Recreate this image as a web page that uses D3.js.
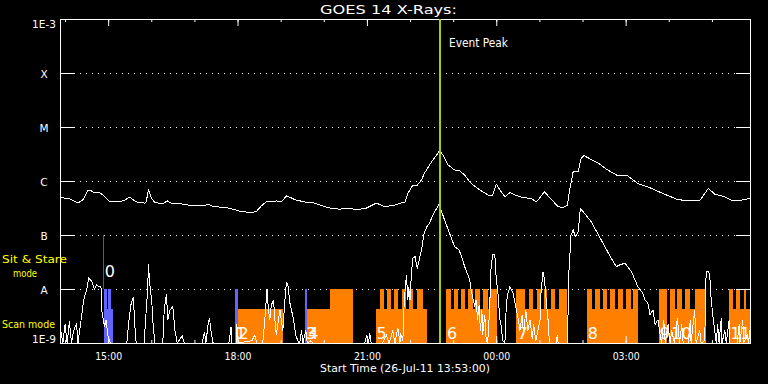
<!DOCTYPE html>
<html>
<head>
<meta charset="utf-8">
<script src="https://cdn.jsdelivr.net/npm/d3@7"></script>
<style>
  html, body { margin: 0; padding: 0; background: #000; }
  svg { display: block; }
  text { font-family: "DejaVu Sans", sans-serif; fill: #fff; }
</style>
</head>
<body>
<svg id="chart" width="768" height="384"></svg>
<script>
// GOES 14 X-ray flux, 16 h window. Times are minutes after the start time.
const startTime = new Date(2011, 6, 26, 13, 53, 0);
const spanMinutes = 960;

const levelValues = [1e-9, 1e-8, 1e-7, 1e-6, 1e-5, 1e-4, 1e-3];
const levelLabels = ['1E-9', 'A', 'B', 'C', 'M', 'X', '1E-3'];

// 1-8 A channel (W/m^2)
const longChannel = [
  [0, 5.0e-7], [15, 4.6e-7], [25, 3.9e-7], [32, 4.5e-7], [39, 6.8e-7], [43, 6.6e-7], [48, 6.1e-7],
  [55, 6.1e-7], [60, 5.5e-7], [69, 4.1e-7], [78, 4.1e-7], [88, 4.3e-7], [97, 5.0e-7], [106, 4.1e-7],
  [118, 3.9e-7], [120, 4.1e-7], [123, 7.0e-7], [127, 4.8e-7], [132, 4.0e-7], [143, 3.75e-7], [149, 4.3e-7],
  [155, 3.9e-7], [164, 3.9e-7], [176, 3.6e-7], [187, 3.55e-7], [201, 3.45e-7], [206, 3.75e-7], [213, 3.35e-7],
  [229, 3.25e-7], [241, 3.0e-7], [248, 2.8e-7], [264, 2.6e-7], [273, 2.7e-7], [280, 3.45e-7], [287, 4.1e-7],
  [296, 4.1e-7], [301, 4.3e-7], [308, 4.1e-7], [315, 5.3e-7], [320, 5.0e-7], [327, 4.5e-7], [340, 4.1e-7],
  [354, 3.9e-7], [373, 3.2e-7], [389, 3.0e-7], [401, 3.15e-7], [410, 3.0e-7], [424, 3.05e-7], [440, 3.9e-7],
  [452, 3.35e-7], [466, 3.6e-7], [480, 4.1e-7], [484, 5.9e-7], [491, 8.4e-7], [496, 8.1e-7], [503, 1.04e-6],
  [507, 1.39e-6], [517, 2.27e-6], [524, 3.0e-6], [528, 3.64e-6], [533, 3.0e-6], [540, 1.98e-6], [549, 1.6e-6],
  [556, 1.55e-6], [563, 1.29e-6], [572, 9.0e-7], [584, 6.8e-7], [598, 5.3e-7], [602, 5.5e-7], [607, 8.7e-7],
  [614, 6.3e-7], [619, 5.1e-7], [626, 6.1e-7], [633, 5.5e-7], [640, 5.1e-7], [656, 4.7e-7], [663, 4.1e-7],
  [674, 6.3e-7], [684, 4.5e-7], [693, 3.35e-7], [700, 3.2e-7], [706, 3.6e-7], [709, 6.8e-7], [714, 1.49e-6],
  [721, 1.49e-6], [725, 2.63e-6], [729, 2.95e-6], [749, 2.13e-6], [762, 1.6e-6], [776, 1.25e-6], [790, 1.24e-6],
  [804, 9.0e-7], [823, 7.3e-7], [841, 5.7e-7], [860, 4.5e-7], [878, 4.3e-7], [890, 4.3e-7], [902, 7.3e-7],
  [911, 5.7e-7], [925, 5.1e-7], [936, 4.3e-7], [953, 4.5e-7], [960, 4.8e-7]
];

// 0.5-4 A channel (W/m^2)
const shortChannel = [
  [1, 1.7e-9], [4, 1e-9], [7, 2.2e-9], [10, 1e-9], [13, 2.5e-9], [16, 1e-9], [19, 1.7e-9], [23, 2.3e-9],
  [25, 1e-9], [30, 3.1e-9], [33, 6.3e-9], [37, 9.6e-9], [40, 1.6e-8], [44, 1.4e-8], [48, 1.0e-8], [51, 1.2e-8],
  [54, 1.1e-8], [57, 1.1e-8], [58, 4.1e-9], [62, 2.0e-9], [64, 2.7e-9], [67, 1.3e-9], [70, 1e-9],
  [93, 1e-9], [96, 2.7e-9], [99, 5.4e-9], [102, 7.2e-9], [104, 2.2e-9], [106, 1e-9],
  [117, 1e-9], [120, 4.1e-9], [122, 9.6e-9], [123, 2.9e-8], [125, 1.2e-8], [126, 9.6e-9], [128, 5e-9],
  [129, 2.7e-9], [132, 1e-9],
  [143, 1e-9], [145, 4.1e-9], [148, 8.1e-9], [150, 2.7e-9], [153, 4.1e-9], [157, 4.7e-9], [160, 1.7e-9],
  [163, 1e-9], [170, 1.35e-9], [173, 1e-9],
  [198, 1e-9], [201, 1.6e-9], [203, 1e-9], [206, 2.2e-9], [208, 2.9e-9], [210, 1.7e-9], [213, 1e-9],
  [235, 1e-9], [238, 2.0e-9], [239, 1e-9], [245, 1e-9], [246, 2.2e-9], [248, 1e-9],
  [267, 1.1e-9], [271, 1.4e-9], [274, 1e-9],
  [282, 1e-9], [285, 2.7e-9], [288, 1.0e-8], [290, 4.1e-9], [292, 2.7e-9], [294, 5e-9], [297, 6.3e-9],
  [299, 2.7e-9], [301, 1.4e-9], [306, 4.1e-9], [310, 1.7e-9], [313, 6.3e-9], [315, 1.3e-8], [317, 1.2e-8],
  [320, 5.4e-9], [325, 2.7e-9], [328, 1.4e-9], [332, 1e-9],
  [334, 1.1e-9], [336, 1.7e-9], [338, 1e-9], [342, 1.7e-9], [344, 1e-9], [349, 1.1e-9], [352, 1e-9],
  [424, 1e-9], [427, 1.4e-9], [429, 1e-9], [431, 1.5e-9], [433, 1e-9],
  [449, 1e-9], [454, 1.4e-9], [458, 1e-9], [463, 1.7e-9], [466, 1e-9], [470, 1.9e-9], [473, 1e-9], [474, 1.5e-9],
  [477, 1.1e-9], [479, 6.3e-9], [482, 1.8e-8], [484, 6.3e-9], [485, 1.1e-8], [487, 6.3e-9], [489, 2.0e-8],
  [491, 3.7e-8], [494, 4.0e-8], [497, 2.4e-8], [503, 5.3e-8], [506, 1.0e-7], [510, 1.4e-7], [514, 1.65e-7],
  [519, 2.35e-7], [524, 3.1e-7], [527, 3.6e-7], [531, 2.7e-7], [535, 1.9e-7], [542, 1.07e-7], [549, 6.1e-8],
  [555, 5.3e-8], [558, 4.3e-8], [563, 2.6e-8], [570, 1.5e-8], [572, 9.6e-9], [577, 4.7e-9], [579, 6.3e-9],
  [581, 2.7e-9], [583, 5e-9], [585, 1.7e-9], [587, 4.1e-9], [588, 1.4e-9], [591, 3.3e-9], [593, 1.1e-9], [595, 1e-9],
  [598, 4.7e-9], [599, 2.0e-8], [602, 4.3e-8], [605, 4.3e-8], [607, 1.5e-8], [609, 9.6e-9], [612, 2.7e-9],
  [614, 2.0e-9], [616, 1.1e-9], [619, 1e-9],
  [621, 5.4e-9], [623, 8.3e-9], [626, 1.1e-8], [628, 9.6e-9], [630, 8.9e-9], [635, 4.1e-9], [637, 3.1e-9],
  [640, 1.7e-9], [643, 3.3e-9], [645, 1.4e-9], [648, 4.1e-9], [651, 1.7e-9], [654, 2.7e-9], [657, 1.2e-9],
  [659, 2.2e-9], [662, 1.1e-9], [665, 1.7e-9],
  [668, 2.7e-9], [669, 7.7e-9], [672, 2.1e-8], [674, 1.5e-8], [676, 7.2e-9], [679, 2.7e-9], [681, 1e-9],
  [690, 1e-9], [692, 1.4e-9], [693, 1e-9],
  [706, 1e-9], [708, 2.0e-8], [711, 1.0e-7], [714, 1.24e-7], [717, 9.3e-8], [721, 1.15e-7], [724, 3.1e-7],
  [730, 2.5e-7], [739, 1.76e-7], [748, 1.07e-7], [758, 6.1e-8], [767, 3.7e-8], [774, 2.6e-8], [779, 2.8e-8],
  [786, 3.0e-8], [795, 2.1e-8], [804, 1.1e-8], [811, 8.3e-9], [814, 6.3e-9], [818, 5.4e-9], [821, 3.3e-9],
  [825, 4.1e-9], [828, 2.2e-9], [832, 2.7e-9], [835, 1.4e-9], [837, 1e-9],
  [840, 2.7e-9], [842, 1e-9], [846, 2.2e-9], [849, 1e-9], [851, 1.7e-9], [855, 1e-9], [859, 2.9e-9], [862, 1e-9],
  [865, 2.2e-9], [867, 1e-9], [874, 1e-9], [877, 2.7e-9], [878, 1e-9], [883, 4.1e-9], [885, 1e-9], [890, 1.7e-9],
  [892, 1e-9],
  [897, 1.1e-9], [899, 2.1e-8], [902, 2.1e-8], [904, 1.8e-8], [906, 6.3e-9], [909, 2.7e-9], [911, 1.7e-9], [913, 1e-9],
  [915, 2.2e-9], [917, 1e-9], [920, 2.9e-9], [921, 1e-9], [925, 1.7e-9], [927, 1e-9], [931, 2.7e-9], [932, 1e-9],
  [942, 1e-9], [945, 2.2e-9], [946, 1e-9], [950, 2.7e-9], [951, 1e-9], [956, 1.4e-9], [958, 1e-9], [960, 1.7e-9]
];

// instrument mode bars: [start, end] minutes
const scanLevel = 4.3e-9;
const stareLevel = 1e-8;
const orangeScan = [[247, 310], [344, 376], [439, 510], [537, 608], [635, 706], [733, 804], [849, 899], [931, 960]];
const orangeStare = [
  [376, 407],
  [445, 451], [455, 461], [465, 470], [476, 481], [486, 491], [497, 505],
  [537, 544], [548, 554], [558, 564], [568, 574], [578, 585], [589, 595], [598, 608],
  [635, 647], [652, 658], [663, 669], [673, 678], [683, 689], [694, 706],
  [733, 740], [744, 751], [755, 761], [765, 772], [776, 783], [787, 794], [797, 804],
  [833, 845],
  [849, 855], [859, 865], [870, 876], [883, 899],
  [931, 936], [941, 946], [951, 955]
];
const blueScan = [[61, 74]];
const blueStare = [[61, 66], [67, 71], [243, 248], [341, 344]];

// block numbers: [minute, text, flux level of baseline]
const blockLabels = [
  [61, '0', 1.7e-8], [243, '1', 1.2e-9], [247, '2', 1.2e-9], [341, '3', 1.2e-9], [344, '4', 1.2e-9],
  [439, '5', 1.2e-9], [537, '6', 1.2e-9], [635, '7', 1.2e-9], [733, '8', 1.2e-9], [833, '9', 1.2e-9],
  [849, '10', 1.2e-9], [931, '11', 1.2e-9]
];

const eventPeak = 529;
const stareMarker = [60, 1e-8, 1e-7];

const svg = d3.select('#chart');
svg.append('rect').attr('width', 768).attr('height', 384).attr('fill', '#000');

const plotLeft = 60, plotRight = 750, plotTop = 19, plotBottom = 343;
const tm = m => d3.timeMinute.offset(startTime, m);
const x = d3.scaleTime().domain([startTime, tm(spanMinutes)]).range([plotLeft, plotRight]);
const y = d3.scaleLog().domain([1e-9, 1e-3]).range([plotBottom, plotTop]).clamp(true);

// dotted grid at class levels
svg.append('g').selectAll('line')
  .data(levelValues.slice(1, -1))
  .join('line')
  .attr('x1', plotLeft + 14).attr('x2', plotRight - 14)
  .attr('y1', d => Math.round(y(d)) + 0.5).attr('y2', d => Math.round(y(d)) + 0.5)
  .attr('stroke', '#fff')
  .attr('stroke-dasharray', '1,5');

// mode bars
function bars(data, level, color) {
  svg.append('g').selectAll('rect')
    .data(data)
    .join('rect')
    .attr('x', d => x(tm(d[0])))
    .attr('width', d => x(tm(d[1])) - x(tm(d[0])))
    .attr('y', y(level))
    .attr('height', plotBottom - y(level))
    .attr('fill', color)
    .attr('shape-rendering', 'crispEdges');
}
bars(orangeScan, scanLevel, '#ff8000');
bars(orangeStare, stareLevel, '#ff8000');
bars(blueScan, scanLevel, '#6464ff');
bars(blueStare, stareLevel, '#6464ff');

// axes
function styleAxis(g) {
  g.select('.domain').remove();
  g.selectAll('line').attr('stroke', '#fff');
}
const hours = d3.timeHour.every(1), hours3 = d3.timeHour.every(3);
svg.append('g').attr('transform', `translate(0,${plotTop})`)
  .call(d3.axisTop(x).ticks(hours).tickSize(-3).tickFormat('')).call(styleAxis);
svg.append('g').attr('transform', `translate(0,${plotTop})`)
  .call(d3.axisTop(x).ticks(hours3).tickSize(-7).tickFormat('')).call(styleAxis);
svg.append('g').attr('transform', `translate(0,${plotBottom})`)
  .call(d3.axisBottom(x).ticks(hours).tickSize(-3).tickFormat('')).call(styleAxis);
const xAxis = svg.append('g').attr('transform', `translate(0,${plotBottom})`)
  .call(d3.axisBottom(x).ticks(hours3).tickSize(-7).tickFormat(d3.timeFormat('%H:%M')))
  .call(styleAxis);
xAxis.selectAll('text')
  .attr('y', 16.5).attr('dy', 0)
  .attr('font-size', 10.5).attr('fill', '#fff')
  .attr('textLength', 27).attr('lengthAdjust', 'spacingAndGlyphs');

const yAxis = svg.append('g').attr('transform', `translate(${plotLeft},0)`)
  .call(d3.axisLeft(y).tickValues(levelValues).tickSize(-14)
    .tickFormat((d, i) => levelLabels[i]))
  .call(styleAxis);
yAxis.selectAll('text')
  .attr('x', -16).attr('text-anchor', 'middle')
  .attr('font-size', 10.5).attr('fill', '#fff')
  .attr('dy', (d, i) => i === 0 ? -0.5 : i === levelValues.length - 1 ? 8 : 4.5);
svg.append('g').attr('transform', `translate(${plotRight},0)`)
  .call(d3.axisRight(y).tickValues(levelValues).tickSize(-14).tickFormat(''))
  .call(styleAxis);

// frame
svg.append('rect')
  .attr('x', plotLeft + 0.5).attr('y', plotTop + 0.5)
  .attr('width', plotRight - plotLeft).attr('height', plotBottom - plotTop)
  .attr('fill', 'none').attr('stroke', '#fff');

// flux curves
const line = d3.line()
  .x(d => x(tm(d[0])))
  .y(d => y(d[1]));
[longChannel, shortChannel].forEach(series => {
  svg.append('path')
    .datum(series)
    .attr('d', line)
    .attr('fill', 'none')
    .attr('stroke', '#fff')
    .attr('stroke-width', 1)
    .attr('shape-rendering', 'crispEdges');
});

// sit & stare marker
const mx = Math.round(x(tm(stareMarker[0]))) + 0.5;
svg.append('line')
  .attr('x1', mx).attr('x2', mx)
  .attr('y1', y(stareMarker[1])).attr('y2', y(stareMarker[2]))
  .attr('stroke', '#b020b0');

// event peak
const px = Math.round(x(tm(eventPeak)));
svg.append('line')
  .attr('x1', px).attr('x2', px)
  .attr('y1', plotTop).attr('y2', plotBottom)
  .attr('stroke', '#a0d000').attr('stroke-width', 2);
svg.append('text')
  .attr('x', px + 9).attr('y', 47)
  .attr('font-size', 12)
  .attr('textLength', 59).attr('lengthAdjust', 'spacingAndGlyphs')
  .text('Event Peak');

// block numbers
svg.append('g').selectAll('text')
  .data(blockLabels)
  .join('text')
  .attr('x', d => x(tm(d[0])) + 1)
  .attr('y', d => y(d[2]))
  .attr('font-size', 16)
  .style('fill', '#fff')
  .text(d => d[1]);

// titles
svg.append('text')
  .attr('x', 320).attr('y', 14)
  .attr('font-size', 12.5)
  .attr('textLength', 137).attr('lengthAdjust', 'spacingAndGlyphs')
  .text('GOES 14 X-Rays:');
svg.append('text')
  .attr('x', 320).attr('y', 372)
  .attr('font-size', 11)
  .attr('textLength', 170).attr('lengthAdjust', 'spacingAndGlyphs')
  .text('Start Time (26-Jul-11 13:53:00)');

// mode legend
const yellow = [['Sit & Stare', 2, 262.5, 65], ['mode', 13, 276.5, 24], ['Scan mode', 2, 328, 53]];
svg.append('g').selectAll('text')
  .data(yellow)
  .join('text')
  .attr('x', d => d[1]).attr('y', d => d[2])
  .attr('font-size', 11)
  .attr('textLength', d => d[3]).attr('lengthAdjust', 'spacingAndGlyphs')
  .style('fill', '#ffff00')
  .text(d => d[0]);
</script>
</body>
</html>
